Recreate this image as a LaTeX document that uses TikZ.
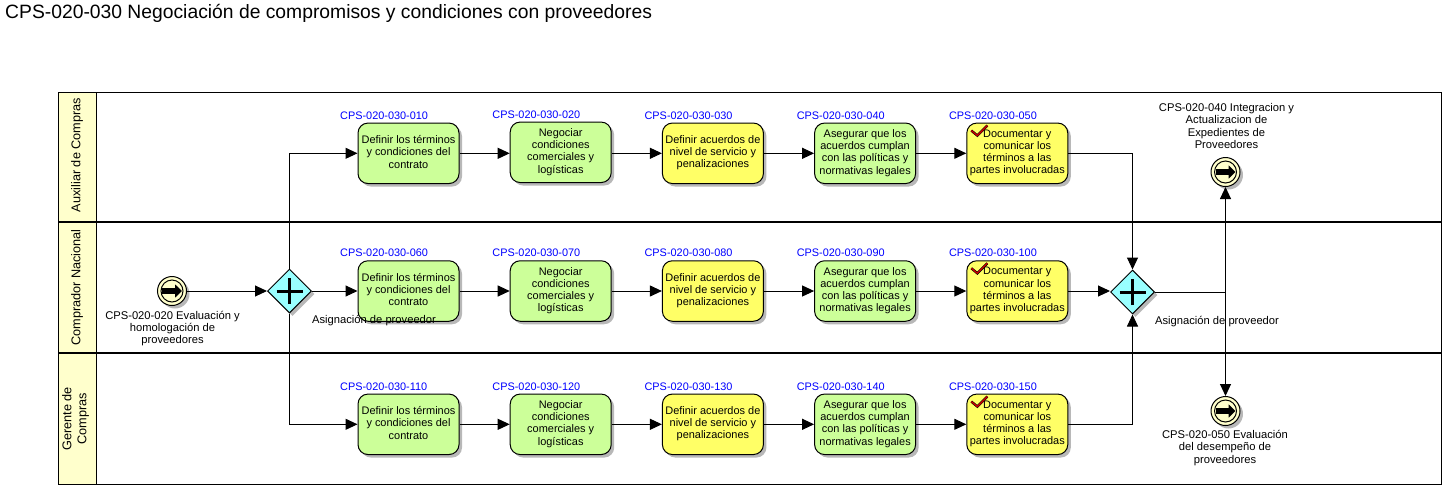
\documentclass[tikz,border=0pt]{standalone}
\usepackage{fontspec}
\setmainfont{Liberation Sans}
\usepackage{tikz}
\usetikzlibrary{positioning,arrows.meta,shapes.geometric,shadows}
\definecolor{laneyellow}{HTML}{FFFFCC}
\definecolor{taskgreen}{HTML}{CCFF99}
\definecolor{taskyellow}{HTML}{FFFF66}
\definecolor{gatecyan}{HTML}{99FFFF}
\definecolor{idblue}{HTML}{0000FF}
\definecolor{shadowgray}{HTML}{B8B8B8}
\newcommand{\TaskFont}{\fontsize{10.95}{12.2}\selectfont}
\newcommand{\NoteFont}{\fontsize{11.2}{12.2}\selectfont}
\newcommand{\TaskCheck}[1]{%
  \draw[line width=2.4pt, black] ([shift={(5,8)}]#1.north west) -- ([shift={(11,13)}]#1.north west) -- ([shift={(21,3)}]#1.north west);
  \draw[line width=1.3pt, red!80!black] ([shift={(5,8)}]#1.north west) -- ([shift={(11,13)}]#1.north west) -- ([shift={(21,3)}]#1.north west);}

\begin{document}
\begin{tikzpicture}[
  x=1pt, y=-1pt,
  node distance=50.2pt,
  lanehead/.style={draw, line width=1pt, fill=laneyellow, anchor=north west, minimum width=38pt, inner sep=0pt, outer sep=0pt},
  lanebody/.style={draw, line width=1pt, anchor=north west, minimum width=1345pt, inner sep=0pt, outer sep=0pt},
  lanetext/.style={rotate=90, align=center, font=\fontsize{12.7}{15}\selectfont, inner sep=0pt},
  task/.style={draw, line width=1pt, rounded corners=10pt, align=center, font=\TaskFont, minimum width=101pt, minimum height=60.5pt, inner sep=1pt, text depth=3pt,
    drop shadow={shadow xshift=3pt, shadow yshift=-3pt, fill=shadowgray, opacity=1}},
  taskG/.style={task, fill=taskgreen},
  taskY/.style={task, fill=taskyellow},
  idtext/.style={font=\fontsize{10.9}{12}\selectfont, text=idblue, inner sep=0pt},
  note/.style={font=\NoteFont, align=center, inner sep=0pt},
  gate/.style={draw, diamond, aspect=1, line width=1pt, fill=gatecyan, minimum size=44pt, inner sep=0pt,
    drop shadow={shadow xshift=3pt, shadow yshift=-3pt, fill=shadowgray, opacity=1},
    path picture={\draw[line width=3pt] ([xshift=-13pt]path picture bounding box.center) -- ([xshift=13pt]path picture bounding box.center);
      \draw[line width=3pt] ([yshift=-13pt]path picture bounding box.center) -- ([yshift=13pt]path picture bounding box.center);}},
  event/.style={draw, circle, line width=1pt, fill=laneyellow, minimum size=29pt, inner sep=0pt,
    drop shadow={shadow xshift=3pt, shadow yshift=-3pt, fill=shadowgray, opacity=1},
    path picture={\draw[line width=1pt] (path picture bounding box.center) circle (11pt);
      \draw[line width=6pt, -{Triangle[length=7pt,width=13pt]}] ([xshift=-10pt]path picture bounding box.center) -- ([xshift=10pt]path picture bounding box.center);}},
  flow/.style={line width=1pt, -{Triangle[length=12pt,width=11pt]}}
]
  \useasboundingbox (0,0) rectangle (1446,491);

  \node[anchor=west, inner sep=0pt, font=\fontsize{19.3}{21}\selectfont] (title) at (5,13) {CPS-020-030 Negociación de compromisos y condiciones con proveedores};

  % lanes
  \node[lanehead, minimum height=130pt] (headA) at (58,92) {};
  \node[lanebody, minimum height=130pt] (bodyA) at (96,92) {};
  \node[lanehead, minimum height=131pt] (headB) at (58,222) {};
  \node[lanebody, minimum height=131pt] (bodyB) at (96,222) {};
  \node[lanehead, minimum height=131.5pt] (headC) at (58,353) {};
  \node[lanebody, minimum height=131.5pt] (bodyC) at (96,353) {};
  \draw[line width=2pt] (headA.south west) -- (bodyA.south east);
  \draw[line width=2pt] (headB.south west) -- (bodyB.south east);
  \node[lanetext] (laneA) at (77,155) {Auxiliar de Compras};
  \node[lanetext] (laneB) at (77,287.5) {Comprador Nacional};
  \node[lanetext] (laneC) at (75.5,419) {Gerente de\\Compras};

  % first row
  \node[taskG] (t010) at (408.5,153.3) {Definir los términos\\y condiciones del\\contrato};
  \node[taskG, right=of t010, yshift=1pt] (t020) {Negociar\\condiciones\\comerciales y\\logísticas};
  \node[taskY, right=of t020, yshift=-1pt] (t030) {Definir acuerdos de\\nivel de servicio y\\penalizaciones};
  \node[taskG, right=of t030] (t040) {Asegurar que los\\acuerdos cumplan\\con las políticas y\\normativas legales};
  \node[taskY, right=of t040] (t050) {Documentar y\\comunicar los\\términos a las\\partes involucradas};

  % second row
  \node[taskG] (t060) at (408.5,291) {Definir los términos\\y condiciones del\\contrato};
  \node[taskG, right=of t060] (t070) {Negociar\\condiciones\\comerciales y\\logísticas};
  \node[taskY, right=of t070] (t080) {Definir acuerdos de\\nivel de servicio y\\penalizaciones};
  \node[taskG, right=of t080] (t090) {Asegurar que los\\acuerdos cumplan\\con las políticas y\\normativas legales};
  \node[taskY, right=of t090] (t100) {Documentar y\\comunicar los\\términos a las\\partes involucradas};

  % third row
  \node[taskG] (t110) at (408.5,424.3) {Definir los términos\\y condiciones del\\contrato};
  \node[taskG, right=of t110] (t120) {Negociar\\condiciones\\comerciales y\\logísticas};
  \node[taskY, right=of t120] (t130) {Definir acuerdos de\\nivel de servicio y\\penalizaciones};
  \node[taskG, right=of t130] (t140) {Asegurar que los\\acuerdos cumplan\\con las políticas y\\normativas legales};
  \node[taskY, right=of t140] (t150) {Documentar y\\comunicar los\\términos a las\\partes involucradas};

  \TaskCheck{t050}
  \TaskCheck{t100}
  \TaskCheck{t150}

  % task numbers
  \node[idtext, above right=3pt and -17.5pt of t010.north west] (id010) {CPS-020-030-010};
  \node[idtext, above right=3pt and -17.5pt of t020.north west] (id020) {CPS-020-030-020};
  \node[idtext, above right=3pt and -17.5pt of t030.north west] (id030) {CPS-020-030-030};
  \node[idtext, above right=3pt and -17.5pt of t040.north west] (id040) {CPS-020-030-040};
  \node[idtext, above right=3pt and -17.5pt of t050.north west] (id050) {CPS-020-030-050};
  \node[idtext, above right=3pt and -17.5pt of t060.north west] (id060) {CPS-020-030-060};
  \node[idtext, above right=3pt and -17.5pt of t070.north west] (id070) {CPS-020-030-070};
  \node[idtext, above right=3pt and -17.5pt of t080.north west] (id080) {CPS-020-030-080};
  \node[idtext, above right=3pt and -17.5pt of t090.north west] (id090) {CPS-020-030-090};
  \node[idtext, above right=3pt and -17.5pt of t100.north west] (id100) {CPS-020-030-100};
  \node[idtext, above right=3pt and -17.5pt of t110.north west] (id110) {CPS-020-030-110};
  \node[idtext, above right=3pt and -17.5pt of t120.north west] (id120) {CPS-020-030-120};
  \node[idtext, above right=3pt and -17.5pt of t130.north west] (id130) {CPS-020-030-130};
  \node[idtext, above right=3pt and -17.5pt of t140.north west] (id140) {CPS-020-030-140};
  \node[idtext, above right=3pt and -17.5pt of t150.north west] (id150) {CPS-020-030-150};

  % gateways and events
  \node[gate] (gwSplit) at (289.5,291) {};
  \node[gate] (gwJoin) at (1132.5,292) {};
  \node[event] (evStart) at (172,291) {};
  \node[event] (evInteg) at (1225.5,172) {};
  \node[event] (evEval) at (1225.5,411) {};

  % connectors
  \draw[flow] (evStart) -- (gwSplit);
  \draw[flow] (gwSplit.north) |- (t010.west);
  \draw[flow] (gwSplit) -- (t060);
  \draw[flow] (gwSplit.south) |- (t110.west);
  \draw[flow] (t010) -- (t020.west |- t010);
  \draw[flow] (t020.east |- t010) -- (t030);
  \draw[flow] (t030) -- (t040);
  \draw[flow] (t040) -- (t050);
  \draw[flow] (t060) -- (t070);
  \draw[flow] (t070) -- (t080);
  \draw[flow] (t080) -- (t090);
  \draw[flow] (t090) -- (t100);
  \draw[flow] (t110) -- (t120);
  \draw[flow] (t120) -- (t130);
  \draw[flow] (t130) -- (t140);
  \draw[flow] (t140) -- (t150);
  \draw[flow] (t050.east) -| (gwJoin.north);
  \draw[flow] (t100.east) -- (gwJoin.west |- t100);
  \draw[flow] (t150.east) -| (gwJoin.south);
  \draw[flow] (gwJoin.east) -| (evInteg.south);
  \draw[flow] (gwJoin.east) -| (evEval.north);

  % labels
  \node[note] (lbStart) at (172.5,328.5) {CPS-020-020 Evaluación y\\homologación de\\proveedores};
  \node[note] (lbSplit) at (374,320.5) {Asignación de proveedor};
  \node[note] (lbJoin) at (1217,321.5) {Asignación de proveedor};
  \node[note] (lbInteg) at (1226.5,126) {CPS-020-040 Integracion y\\Actualizacion de\\Expedientes de\\Proveedores};
  \node[note] (lbEval) at (1225,448) {CPS-020-050 Evaluación\\del desempeño de\\proveedores};
\end{tikzpicture}
\end{document}
